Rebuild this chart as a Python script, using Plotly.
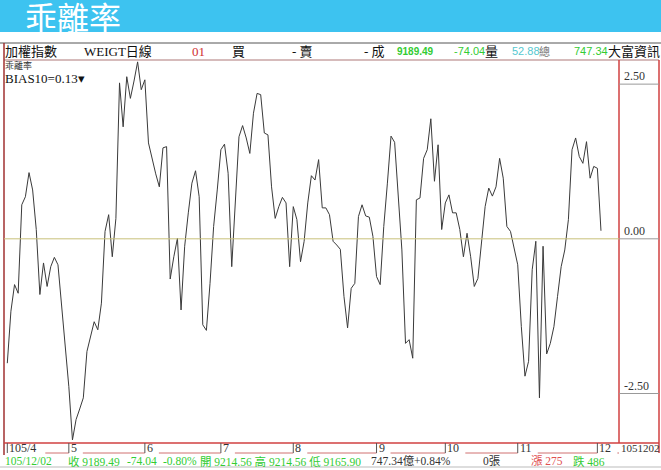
import plotly.graph_objects as go

# ---------------- data ----------------
bias = [
    -2.01, -1.17, -0.74, -0.88, 0.55, 0.68, 1.07, 0.79, 0.15, -0.90,
    -0.39, -0.77, -0.45, -0.30, -0.42, -1.09, -1.79, -2.39, -3.25, -2.92,
    -2.75, -2.57, -1.82, -1.58, -1.34, -1.47, -1.04, 0.12, 0.39, -0.29,
    0.33, 2.52, 1.81, 2.62, 2.27, 2.55, 2.86, 2.41, 2.57, 1.55,
    1.28, 1.05, 0.84,
    1.47, 1.49, -0.65, -0.29, 0.01, -1.15, -0.12, 0.42, 0.90, 1.10,
    0.68, -1.39, -1.48, -0.72, 0.20, 0.79, 1.44, 1.53, 1.06, -0.45,
    0.52, 1.65, 1.83, 1.63, 1.38, 2.03, 2.35, 2.33, 1.71, 1.68,
    0.84, 0.33, 0.52, 0.67, 0.58, -0.45, 0.52, 0.31, -0.37,
    -0.04, 0.58, 1.02, 0.95, 1.28, 0.50, 0.50, 0.39, -0.04, -0.10,
    -0.17, -0.93, -1.44, -0.80, -0.72, 0.36, 0.55, 0.37, 0.35, 0.04,
    -0.61, -0.74, 0.20, 0.90, 1.66, 1.56, 0.68, -0.18, -1.69, -1.63,
    -1.93, 0.63, 0.66, 1.30, 1.44, 1.94, 0.93, 1.52, 0.15, 0.58,
    0.71, 0.42, 0.42, 0.15,
    -0.29, 0.09, -0.29, -0.77, -0.64, -0.02, 0.52, 0.82, 0.69, 0.84,
    1.30, 0.98, 0.20, 0.12, -0.18, -0.42, -1.42, -2.22, -1.98, -0.50,
    -0.04, -2.57, -0.12, -1.86, -1.69, -1.42, -0.93, -0.45, -0.18, 0.31,
    1.44, 1.63, 1.33, 1.22, 1.57, 0.98, 1.17, 1.14, 0.13,
]
day_index = list(range(len(bias)))

month_idx = [0, 17, 38, 59, 79, 102, 121, 141, 163]
month_labels = ["105/4", "5", "6", "7", "8", "9", "10", "11", "12"]

ytick_vals = [2.5, 0.0, -2.5]
ytick_labels = ["2.50", "0.00", "-2.50"]

# ---------------- layout helpers (pixel -> paper) ----------------
W, H = 661, 470
L, R, T, B = 4, 619, 60, 443


def px(x):
    return (x - L) / (R - L)


def py(y):
    return (B - y) / (B - T)


SERIF = "Liberation Serif, Noto Sans CJK TC, serif"
CJK = "Noto Sans CJK TC, Liberation Serif"
SANS = "Liberation Sans, Arial, sans-serif"
GREEN = "#33cc33"
RED = "#d03030"

fig = go.Figure()
fig.add_trace(go.Scatter(
    x=day_index, y=bias, mode="lines",
    line=dict(color="#3a3a3a", width=1),
    hoverinfo="skip", showlegend=False,
))

shapes = []
annotations = []

# title bar
shapes.append(dict(type="rect", xref="paper", yref="paper",
                   x0=px(0), x1=px(W), y0=py(32), y1=py(-2),
                   fillcolor="#3dc3f0", line=dict(width=0), layer="below"))
annotations.append(dict(text="乖離率", xref="paper", yref="paper",
                        x=px(24), y=py(16), xanchor="left", yanchor="middle",
                        showarrow=False, borderpad=0,
                        font=dict(family="Noto Sans CJK TC", size=32, color="white")))

# header row frame
shapes.append(dict(type="line", xref="paper", yref="paper",
                   x0=px(0), x1=px(W), y0=py(43), y1=py(43),
                   line=dict(color="#555555", width=1)))
shapes.append(dict(type="line", xref="paper", yref="paper",
                   x0=px(4), x1=px(659), y0=py(60), y1=py(60),
                   line=dict(color="#c9a5a5", width=1.5)))

# header texts
header = [
    ("加權指數", 3, "#111111", SERIF, 13),
    ("WEIGT日線", 82, "#111111", SERIF, 13),
    ("01", 190, RED, SERIF, 13),
    ("買", 230, "#111111", SERIF, 13),
    ("- 賣", 290, "#111111", SERIF, 13),
    ("- 成", 362, "#111111", SERIF, 13),
    ("<b>9189.49</b>", 395, GREEN, SANS, 10),
    ("-74.04", 452, GREEN, SANS, 11),
    ("量", 483, "#111111", SERIF, 13),
    ("52.88", 510, "#55c8d0", SANS, 11),
    ("總", 537, "#777777", SERIF, 11),
    ("747.34", 572, GREEN, SANS, 11),
    ("大富資訊", 606, "#111111", SERIF, 13),
]
for txt, x, col, fam, sz in header:
    annotations.append(dict(text=txt, xref="paper", yref="paper", x=px(x), y=py(51),
                            xanchor="left", yanchor="middle", showarrow=False,
                            font=dict(family=fam, size=sz, color=col)))

# indicator name in plot corner
annotations.append(dict(text="乖離率", xref="paper", yref="paper", x=px(4), y=py(66),
                        xanchor="left", yanchor="middle", showarrow=False,
                        borderpad=0,
                        font=dict(family=CJK, size=9, color="#333333")))
annotations.append(dict(text="BIAS10=0.13▾", xref="paper", yref="paper", x=px(4), y=py(78),
                        xanchor="left", yanchor="middle", showarrow=False,
                        borderpad=0,
                        font=dict(family=SERIF, size=13, color="#111111")))

# frame borders
shapes.append(dict(type="line", xref="paper", yref="paper",
                   x0=px(4), x1=px(4), y0=py(43), y1=py(455),
                   line=dict(color="#a03030", width=1.5)))
shapes.append(dict(type="line", xref="paper", yref="paper",
                   x0=1, x1=1, y0=py(443), y1=py(60),
                   line=dict(color="#d04040", width=1.5)))
shapes.append(dict(type="line", xref="paper", yref="paper",
                   x0=px(659), x1=px(659), y0=py(453), y1=py(60),
                   line=dict(color="#d04040", width=1.5)))
shapes.append(dict(type="line", xref="paper", yref="paper",
                   x0=px(4), x1=px(659), y0=0, y1=0,
                   line=dict(color="#d04040", width=1.5)))
shapes.append(dict(type="line", xref="paper", yref="paper",
                   x0=px(0), x1=px(W), y0=py(467), y1=py(467),
                   line=dict(color="#bbbbbb", width=1)))

# zero line inside plot
shapes.append(dict(type="line", xref="paper", yref="y",
                   x0=0, x1=1, y0=0, y1=0,
                   line=dict(color="#c8c07a", width=1)))

# right-side y ticks
for v, lab in zip(ytick_vals, ytick_labels):
    shapes.append(dict(type="line", xref="paper", yref="y",
                       x0=1, x1=px(659), y0=v, y1=v,
                       line=dict(color="#999999", width=1)))
    annotations.append(dict(text=lab, xref="paper", yref="y", x=px(622), y=v,
                            xanchor="left", yanchor="bottom", showarrow=False,
                            yshift=-1,
                            font=dict(family=SERIF, size=12, color="#333333")))

# month axis row
for i, (m, lab) in enumerate(zip(month_idx, month_labels)):
    shapes.append(dict(type="line", xref="x", yref="paper",
                       x0=m, x1=m, y0=py(443), y1=py(453),
                       line=dict(color="#555555", width=1)))
    annotations.append(dict(text=lab, xref="x", yref="paper", x=m, y=py(448),
                            xanchor="left", yanchor="middle", showarrow=False,
                            xshift=0,
                            font=dict(family=SERIF, size=12, color="#333333")))
    nxt = month_idx[i + 1] if i + 1 < len(month_idx) else None
    start = m + (len(lab) * 6 + 8) / 3.62
    end = nxt if nxt is not None else m + 22 / 3.62
    shapes.append(dict(type="line", xref="x", yref="paper",
                       x0=start, x1=end, y0=py(453), y1=py(453),
                       line=dict(color="#d07070", width=1)))
annotations.append(dict(text="1051202", xref="paper", yref="paper", x=px(620), y=py(448),
                        xanchor="left", yanchor="middle", showarrow=False,
                        borderpad=0,
                        font=dict(family=SERIF, size=11, color="#333333")))

# bottom info row
bottom = [
    ("105/12/02", 4, GREEN),
    ("收 9189.49", 67, GREEN),
    ("-74.04", 126, GREEN),
    ("-0.80%", 162, GREEN),
    ("開 9214.56 高 9214.56 低 9165.90", 199, GREEN),
    ("747.34億+0.84%", 370, "#333333"),
    ("0張", 482, "#333333"),
    ("漲 275", 530, "#e05050"),
    ("跌 486", 572, GREEN),
]
for txt, x, col in bottom:
    annotations.append(dict(text=txt, xref="paper", yref="paper", x=px(x), y=py(461),
                            xanchor="left", yanchor="middle", showarrow=False,
                            borderpad=0,
                            font=dict(family=SERIF, size=11.5, color=col)))

fig.update_layout(
    width=W, height=H,
    margin=dict(l=L, r=W - R, t=T, b=H - B, pad=0),
    paper_bgcolor="white", plot_bgcolor="white",
    xaxis=dict(range=[-(7.3 - L) / 3.62, -(7.3 - L) / 3.62 + (R - L) / 3.62],
               showgrid=False, zeroline=False, showticklabels=False,
               ticks="", showline=False, fixedrange=True),
    yaxis=dict(range=[-3.30, 2.89], showgrid=False, zeroline=False,
               showticklabels=False, ticks="", showline=False, fixedrange=True),
    shapes=shapes, annotations=annotations,
    showlegend=False,
)

fig.write_html(
    "out.html",
    config={"displayModeBar": False},
    post_script="document.body.style.margin='0';document.body.style.padding='0';document.body.style.overflow='hidden';",
)
